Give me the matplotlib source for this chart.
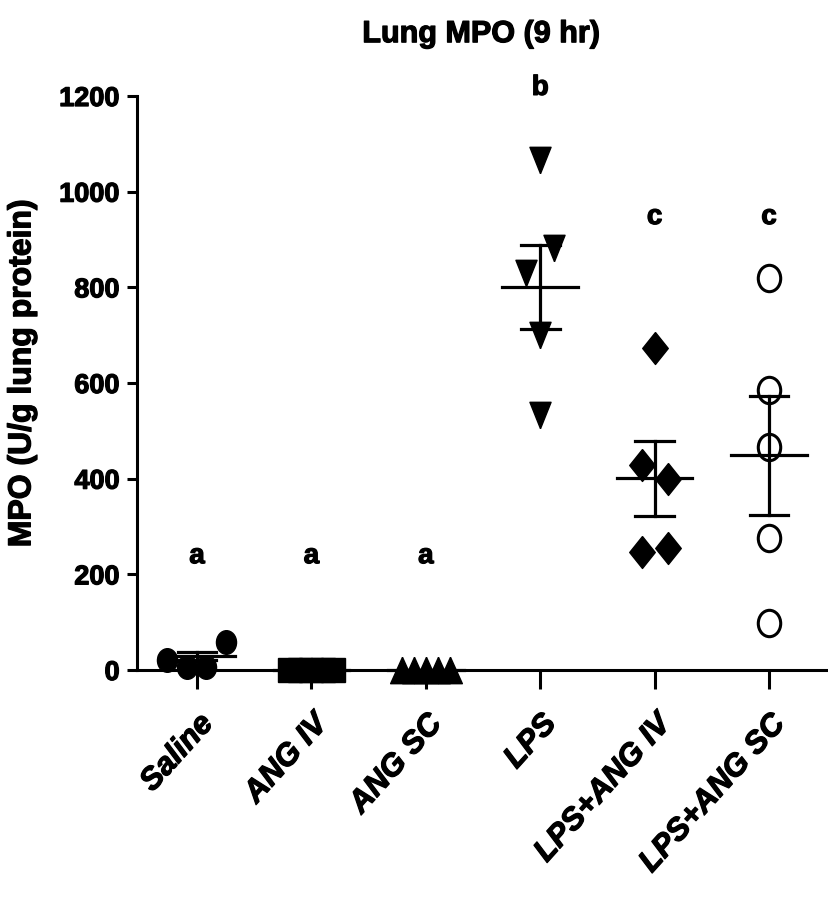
import numpy as np
import matplotlib
matplotlib.use("Agg")
import matplotlib.pyplot as plt
import matplotlib.patheffects as pe
from matplotlib.path import Path
from matplotlib.transforms import Affine2D, ScaledTranslation

plt.rcParams['font.family'] = ['Liberation Sans', 'DejaVu Sans']
plt.rcParams['font.weight'] = 'bold'

# данные
groups = ['Saline', 'ANG IV', 'ANG SC', 'LPS', 'LPS+ANG IV', 'LPS+ANG SC']
saline = [21, 6, 6, 58]
ang_iv = [0, 0, 0, 0, 0]
ang_sc = [0, 0, 0, 0, 0]
lps = [1066, 882, 830, 700, 533]
lps_ang_iv = [673, 429, 399, 247, 255]
lps_ang_sc = [820, 585, 466, 276, 98]
means = [29, 0, 0, 800, 401, 449]
sems = [8, 0, 0, 88, 78, 124]
letters = ['a', 'a', 'a', 'b', 'c', 'c']
letter_y = [238, 238, 238, 1217, 947, 947]

# смещения точек по x (как на рисунке)
offsets = [
    [-0.26, -0.09, 0.08, 0.25],
    [-0.19, -0.1, 0.0, 0.1, 0.19],
    [-0.21, -0.105, 0.0, 0.105, 0.21],
    [0.0, 0.12, -0.12, 0.0, 0.0],
    [0.0, -0.11, 0.12, -0.11, 0.12],
    [0.0, 0.0, 0.0, 0.0, 0.0],
]

# формы маркеров
ellipse = Path.unit_circle().transformed(Affine2D().scale(0.85, 1.0))
tri_up = [(0, 1), (-0.9, -1), (0.9, -1), (0, 1)]
tri_down = [(0, -1), (-0.8, 1), (0.8, 1), (0, -1)]
diamond = [(0, 1), (0.8, 0), (0, -1), (-0.8, 0), (0, 1)]

styles = [
    dict(marker=ellipse, ms=17, mfc='black'),
    dict(marker='s', ms=17, mfc='black'),
    dict(marker=tri_up, ms=19, mfc='black'),
    dict(marker=tri_down, ms=19, mfc='black'),
    dict(marker=diamond, ms=23, mfc='black'),
    dict(marker=ellipse, ms=19, mfc='none', mew=2.2),
]

data = [saline, ang_iv, ang_sc, lps, lps_ang_iv, lps_ang_sc]

# утолщение шрифта
heavy = [pe.withStroke(linewidth=0.9, foreground='black')]

fig = plt.figure(figsize=(8.29, 8.99), dpi=100)
ax = fig.add_axes([0.1653, 0.2547, 0.8311, 0.6385])

for i, vals in enumerate(data):
    xs = i + np.array(offsets[i])
    ax.plot(xs, vals, linestyle='none', color='black', clip_on=False,
            zorder=3, **styles[i])

    # среднее и SEM
    m, s = means[i], sems[i]
    ax.plot([i - 0.33, i + 0.33], [m, m], color='black', lw=2.3, zorder=4, clip_on=False)
    ax.plot([i, i], [m - s, m + s], color='black', lw=2.3, zorder=4, clip_on=False)
    ax.plot([i - 0.17, i + 0.17], [m + s, m + s], color='black', lw=2.3, zorder=4, clip_on=False)
    ax.plot([i - 0.17, i + 0.17], [m - s, m - s], color='black', lw=2.3, zorder=4, clip_on=False)

    ax.text(i, letter_y[i], letters[i], ha='center', va='center',
            fontsize=20, fontweight='bold', path_effects=heavy)

ax.set_xlim(-0.524, 5.498)
ax.set_ylim(0, 1200)
ax.set_yticks(range(0, 1201, 200))
ax.set_xticks(range(len(groups)))
ax.set_xticklabels(groups, rotation=48, ha='right', rotation_mode='anchor',
                   fontsize=22.5, fontweight='bold', fontstyle='italic')
ax.tick_params(axis='y', length=7.5, width=2.2, labelsize=19.5, pad=5)
ax.tick_params(axis='x', length=14, width=2.2, pad=14)

shift = ScaledTranslation(0, 0, fig.dpi_scale_trans)
for lbl in ax.get_xticklabels():
    lbl.set_transform(lbl.get_transform() + shift)
    lbl.set_path_effects(heavy)
for lbl in ax.get_yticklabels():
    lbl.set_path_effects(heavy)

for side in ['top', 'right']:
    ax.spines[side].set_visible(False)
for side in ['left', 'bottom']:
    ax.spines[side].set_linewidth(2.2)

fig.text(0.027, 0.585, 'MPO (U/g lung protein)', rotation=90, ha='center', va='center',
         fontsize=23, fontweight='bold', path_effects=heavy)
fig.text(0.58, 0.962, 'Lung MPO (9 hr)', ha='center', va='center',
         fontsize=22, fontweight='bold', path_effects=heavy)

fig.savefig('out.png', dpi=100)
